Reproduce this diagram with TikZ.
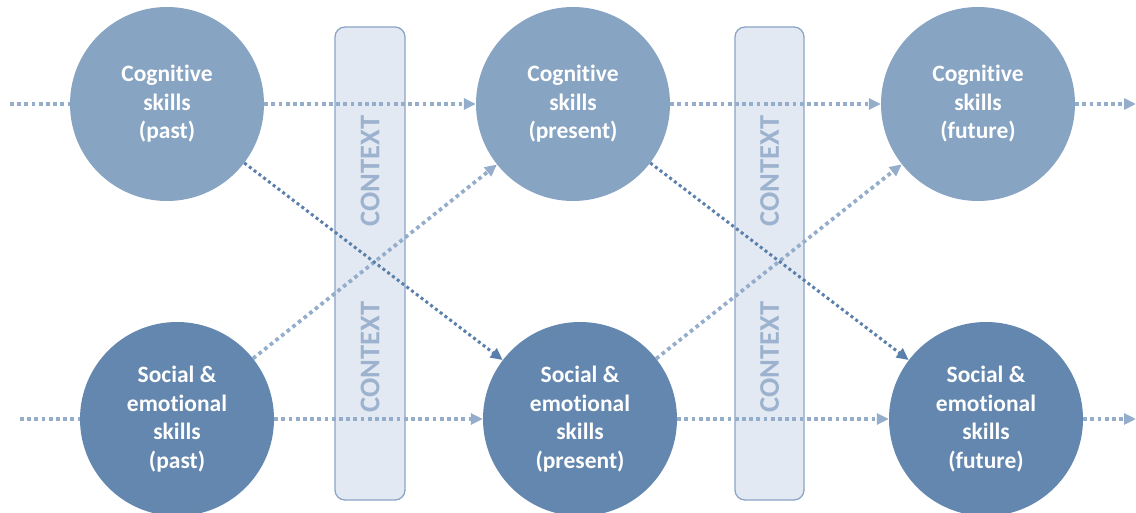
\documentclass[tikz,border=0pt]{standalone}
\usepackage{fontspec}
\setmainfont{Carlito}[Ligatures=NoCommon]
\usetikzlibrary{arrows.meta}
\definecolor{cogfill}{HTML}{88A4C3}
\definecolor{socfill}{HTML}{6487AF}
\definecolor{lightarr}{HTML}{93ADCB}
\definecolor{darkarr}{HTML}{5B7FAB}
\definecolor{ctxfill}{HTML}{E2E9F2}
\definecolor{ctxdraw}{HTML}{8BA5C6}
\definecolor{ctxtext}{HTML}{9CB2CE}
\begin{document}
\begin{tikzpicture}[x=1pt,y=-1pt,
  skill/.style={circle,minimum size=194pt,inner sep=0pt,align=center,text=white,
    font=\fontsize{23.5}{28.5}\selectfont\bfseries},
  cog/.style={skill,fill=cogfill},
  soc/.style={skill,fill=socfill},
  ctxbox/.style={draw=ctxdraw,line width=1.3pt,fill=ctxfill,rounded corners=10pt},
  ctxlabel/.style={rotate=90,text=ctxtext,font=\fontsize{28.5}{30}\selectfont\bfseries},
  lightline/.style={draw=lightarr,line width=3.7pt,dash pattern=on 3.7pt off 3.5pt},
  darkline/.style={draw=darkarr,line width=3pt,dash pattern=on 3pt off 3pt},
  tip/.style={-{Triangle[length=12pt,width=11pt]}}
]
\useasboundingbox (0,0) rectangle (1136,513);
% context boxes
\node[ctxbox,minimum width=70pt,minimum height=473pt,inner sep=0pt] (box1) at (370,263.5) {};
\node[ctxbox,minimum width=69pt,minimum height=473pt,inner sep=0pt] (box2) at (769.5,263.5) {};
\node[ctxlabel] (t1a) at (370,171) {CONTEXT};
\node[ctxlabel] (t1b) at (370,357) {CONTEXT};
\node[ctxlabel] (t2a) at (769.5,171) {CONTEXT};
\node[ctxlabel] (t2b) at (769.5,357) {CONTEXT};
% skill nodes
\node[cog] (cpast) at (167,104) {Cognitive\\skills\\(past)};
\node[cog] (cpres) at (573,104) {Cognitive\\skills\\(present)};
\node[cog] (cfut) at (978,104) {Cognitive\\skills\\(future)};
\node[soc] (spast) at (177,419) {Social \&\\emotional\\skills\\(past)};
\node[soc] (spres) at (580,419) {Social \&\\emotional\\skills\\(present)};
\node[soc] (sfut) at (986,419) {Social \&\\emotional\\skills\\(future)};
\coordinate (l1) at (10,104);
\coordinate (l2) at (20,419);
\coordinate (r1) at (1136,104);
\coordinate (r2) at (1136,419);
% connectors
\draw[lightline] (l1) -- (cpast);
\draw[lightline] (l2) -- (spast);
\draw[lightline,tip] (cpast) -- (cpres);
\draw[lightline,tip] (cpres) -- (cfut);
\draw[lightline,tip] (cfut) -- (r1);
\draw[lightline,tip] (spast) -- (spres);
\draw[lightline,tip] (spres) -- (sfut);
\draw[lightline,tip] (sfut) -- (r2);
\draw[lightline,tip] (spast) -- (cpres);
\draw[lightline,tip] (spres) -- (cfut);
\draw[darkline,tip] (cpast) -- (spres);
\draw[darkline,tip] (cpres) -- (sfut);
\end{tikzpicture}
\end{document}
